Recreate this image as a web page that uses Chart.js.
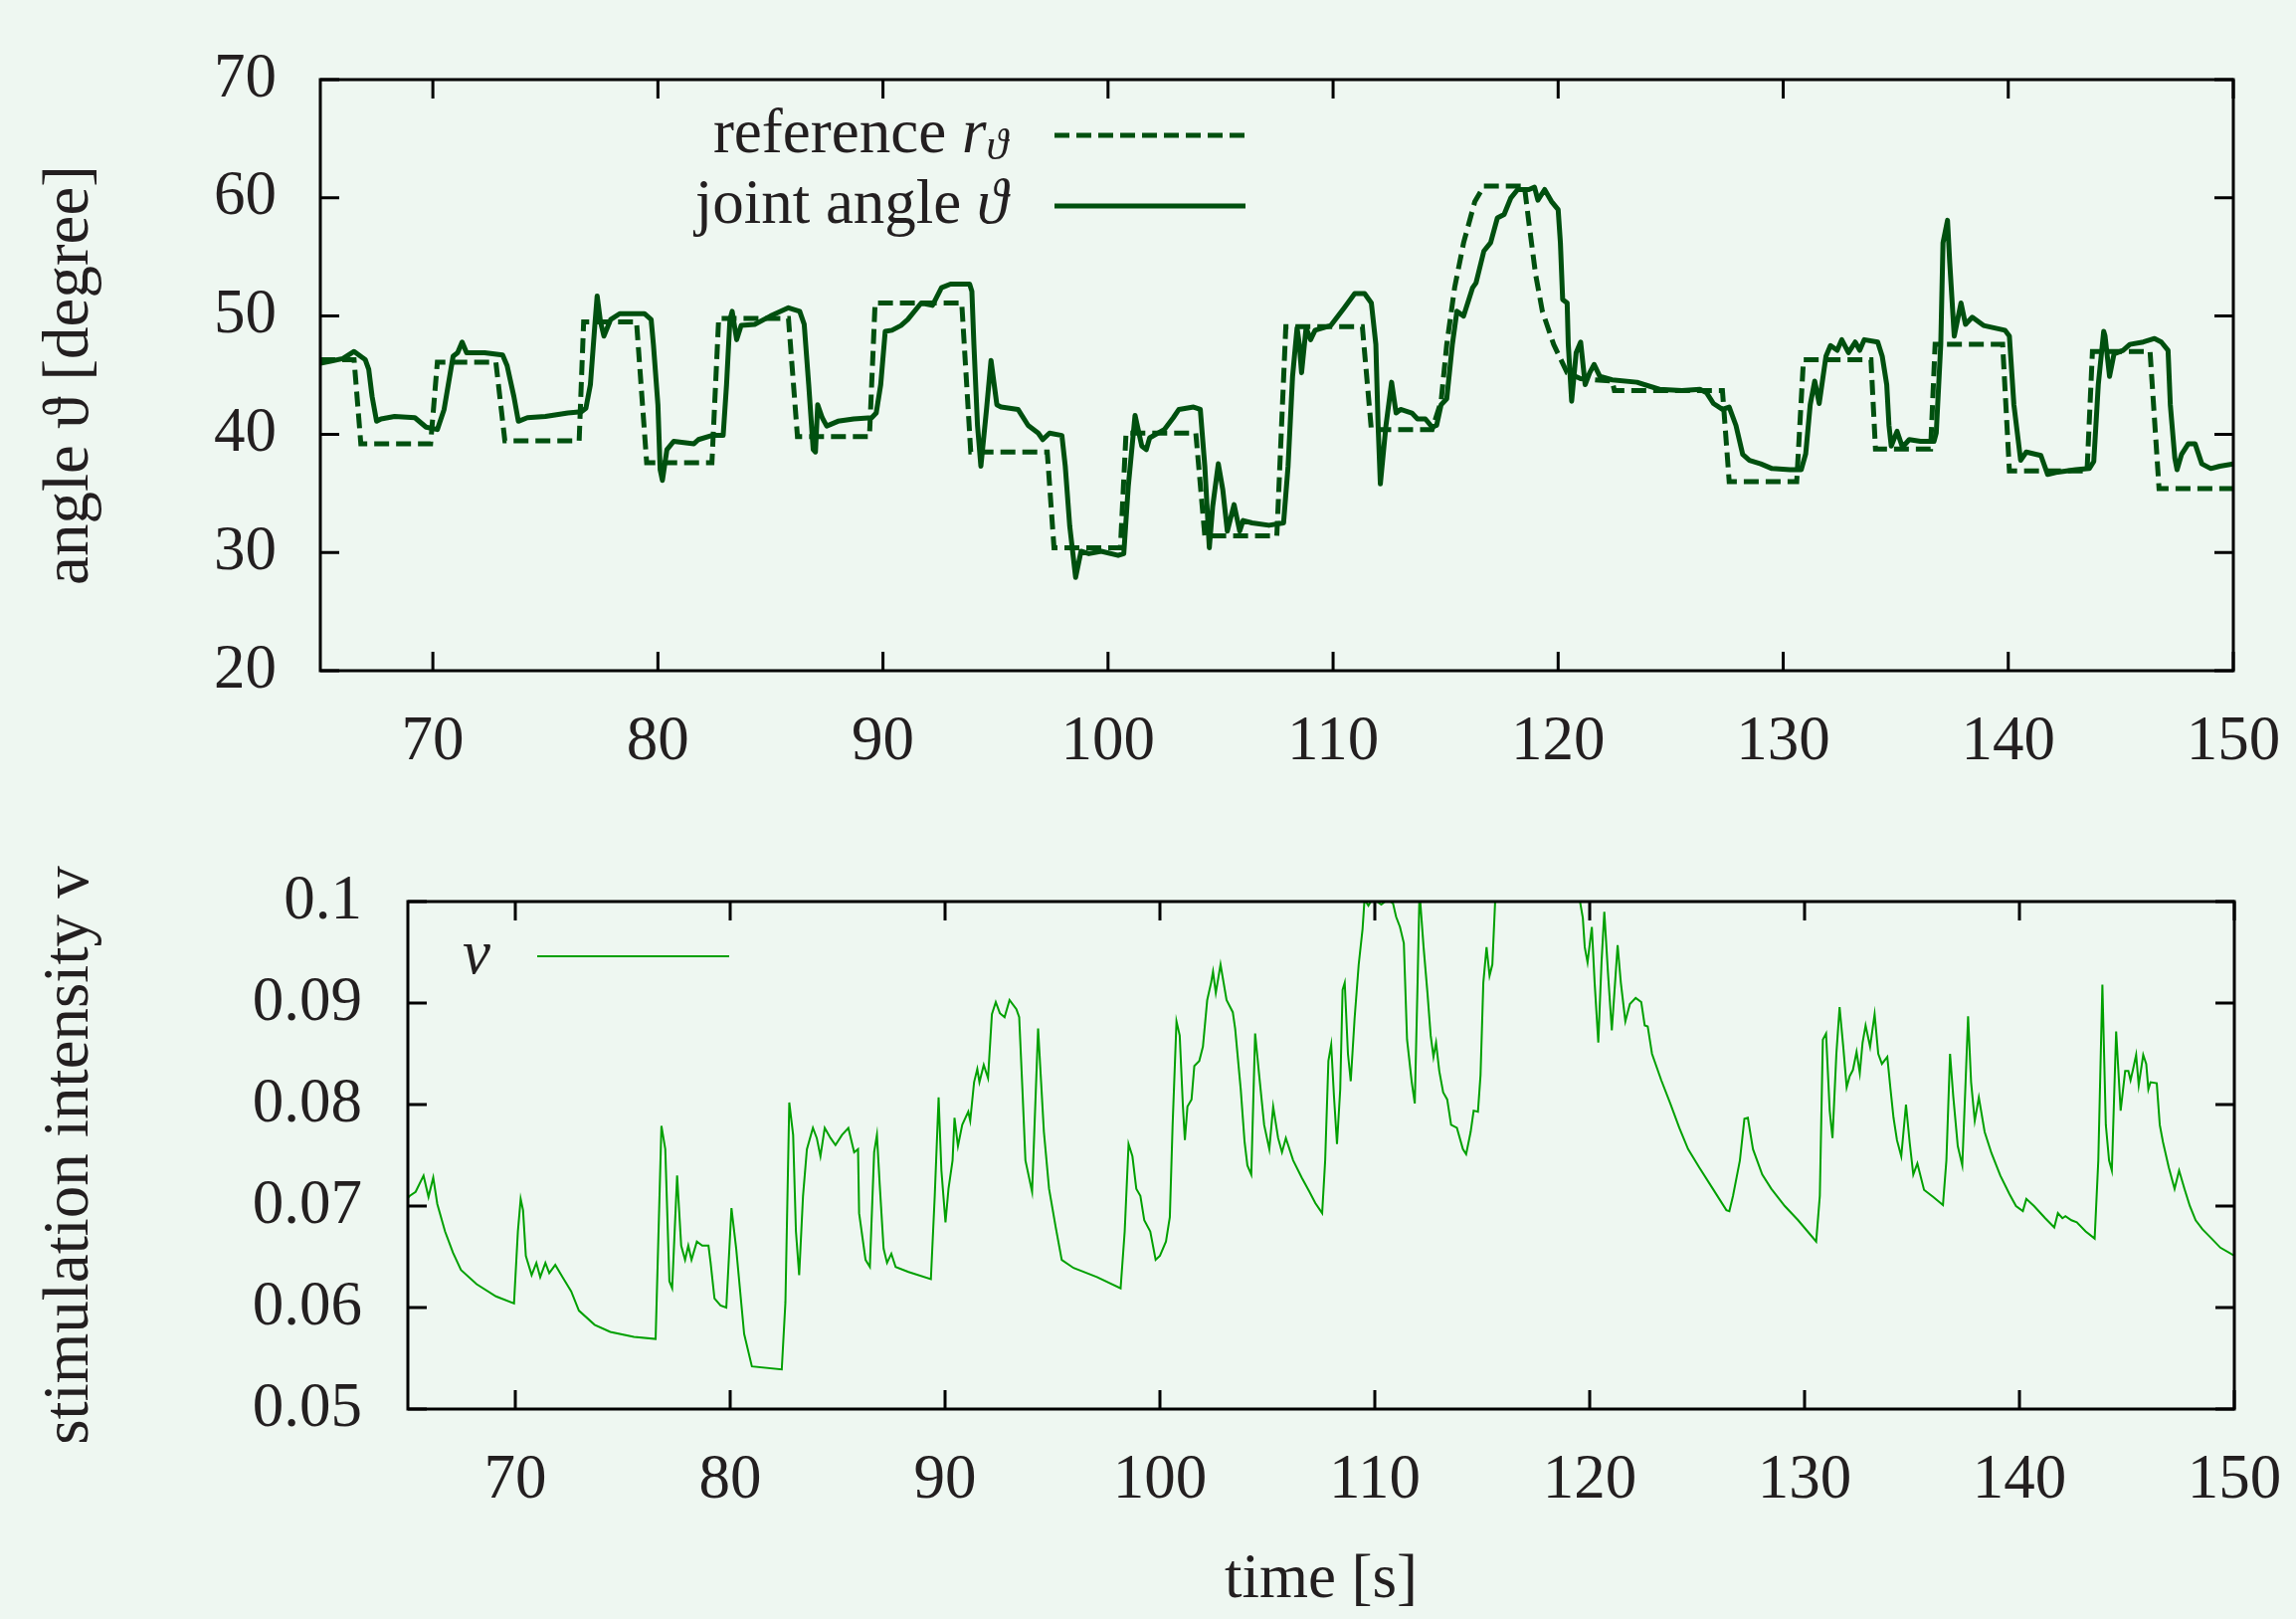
<!DOCTYPE html>
<html>
<head>
<meta charset="utf-8">
<script src="https://cdn.jsdelivr.net/npm/chart.js@4.4.1/dist/chart.umd.min.js"></script>
<style>
  html, body { margin: 0; padding: 0; background: #eef7f1; }
  body { width: 2308px; height: 1627px; position: relative; overflow: hidden; }
  .box { position: absolute; left: 0; width: 2308px; }
</style>
</head>
<body>
<div class="box" style="top:0;height:800px"><canvas id="angleChart" width="2308" height="800"></canvas></div>
<div class="box" style="top:830px;height:797px"><canvas id="stimChart" width="2308" height="797"></canvas></div>
<script>
// tick labels
const timeTicks = [70, 80, 90, 100, 110, 120, 130, 140, 150];
const angleTicks = [20, 30, 40, 50, 60, 70];
const stimTicks = [0.05, 0.06, 0.07, 0.08, 0.09, 0.1];

// reference r (dashed)
const refTime = [65, 66.5, 66.8, 69.9, 70.2, 72.8, 73.2, 76.5, 76.7, 79.05, 79.5, 82.4, 82.7, 85.8, 86.2, 89.4,
  89.65, 93.5, 93.9, 97.3, 97.6, 100.55, 100.8, 103.9, 104.3, 107.5, 107.9, 111.3, 111.7, 114.4, 114.8, 115.05,
  115.4, 115.8, 116.3, 116.7, 118.5, 118.7, 119.0, 119.3, 119.8, 120.4, 121.0, 122.4, 122.5, 127.3, 127.6, 130.6,
  130.9, 133.9, 134.1, 136.55, 136.75, 139.75, 140.05, 143.5, 143.74, 146.3, 146.7, 150];
const refAngle = [46.3, 46.3, 39.2, 39.2, 46.1, 46.1, 39.45, 39.45, 49.5, 49.5, 37.6, 37.6, 49.8, 49.8, 39.8, 39.8,
  51.1, 51.1, 38.5, 38.5, 30.4, 30.4, 40.1, 40.1, 31.4, 31.4, 49.1, 49.1, 40.4, 40.4, 42.8, 47.6,
  52.4, 56.2, 59.7, 61.0, 61.0, 57.9, 53.5, 50.4, 47.6, 45.2, 44.7, 44.5, 43.7, 43.7, 36.0, 36.0,
  46.3, 46.3, 38.75, 38.75, 47.6, 47.6, 36.9, 36.9, 47.0, 47.0, 35.4, 35.4];

// joint angle (solid)
const jointTime = [65.0, 65.5, 66.0, 66.5, 67.0, 67.15, 67.3, 67.5, 67.7, 68.3, 69.2, 69.7, 70.2, 70.5, 70.9, 71.1,
  71.3, 71.5, 72.3, 73.1, 73.3, 73.6, 73.8, 74.2, 75.0, 76.0, 76.6, 76.8, 77.0, 77.2, 77.3, 77.45, 77.6, 77.9,
  78.3, 79.4, 79.7, 79.8, 80.0, 80.1, 80.2, 80.4, 80.7, 81.6, 81.8, 82.4, 82.9, 83.05, 83.2, 83.3, 83.5, 83.7,
  84.3, 85.0, 85.8, 86.3, 86.5, 86.7, 86.9, 87.0, 87.1, 87.3, 87.5, 88.0, 88.7, 89.5, 89.7, 89.9, 90.1, 90.4,
  90.8, 91.1, 91.7, 92.2, 92.6, 93.0, 93.85, 93.95, 94.04, 94.2, 94.35, 94.6, 94.8, 95.06, 95.25, 96.0, 96.45,
  96.9, 97.1, 97.4, 97.95, 98.1, 98.3, 98.56, 98.8, 99.15, 99.7, 100.45, 100.7, 100.9, 101.2, 101.5, 101.7,
  101.85, 102.5, 102.9, 103.15, 103.8, 104.1, 104.3, 104.5, 104.65, 104.9, 105.1, 105.3, 105.6, 105.85, 106.0,
  106.4, 107.15, 107.8, 108.0, 108.2, 108.4, 108.5, 108.6, 108.8, 109.0, 109.2, 109.9, 110.5, 110.96, 111.4,
  111.7, 111.9, 112.0, 112.1, 112.35, 112.6, 112.8, 113.0, 113.5, 113.75, 114.1, 114.4, 114.6, 114.8, 115.05,
  115.3, 115.5, 115.8, 116.2, 116.35, 116.7, 117.0, 117.3, 117.6, 117.9, 118.2, 118.7, 118.95, 119.1, 119.4,
  119.7, 120.0, 120.1, 120.2, 120.4, 120.45, 120.6, 120.8, 121.0, 121.2, 121.4, 121.6, 121.85, 122.4, 123.5,
  124.5, 125.5, 126.3, 126.6, 126.9, 127.3, 127.6, 127.9, 128.2, 128.5, 129.0, 129.5, 130.3, 130.8, 131.0,
  131.2, 131.4, 131.6, 131.9, 132.1, 132.4, 132.6, 132.9, 133.2, 133.4, 133.6, 134.2, 134.4, 134.6, 134.7,
  134.8, 135.06, 135.3, 135.6, 136.1, 136.7, 136.8, 137.0, 137.1, 137.3, 137.4, 137.6, 137.9, 138.1, 138.4,
  138.9, 139.85, 140.05, 140.25, 140.55, 140.8, 141.45, 141.75, 142.2, 143.0, 143.6, 143.8, 144.0, 144.24,
  144.3, 144.5, 144.7, 145.1, 145.4, 146.0, 146.5, 146.8, 147.1, 147.2, 147.4, 147.5, 147.7, 148.0, 148.3,
  148.6, 149.0, 149.4, 150.0];
const jointAngle = [46.0, 46.2, 46.4, 47.0, 46.3, 45.5, 43.2, 41.1, 41.3, 41.5, 41.4, 40.6, 40.4, 42.1, 46.6, 46.9,
  47.8, 46.9, 46.9, 46.7, 45.8, 43.2, 41.1, 41.4, 41.5, 41.8, 41.9, 42.2, 44.2, 49.3, 51.7, 49.5, 48.3, 49.7,
  50.2, 50.2, 49.7, 47.6, 42.5, 37.0, 36.1, 38.7, 39.4, 39.2, 39.55, 39.9, 39.9, 44.2, 49.7, 50.4, 48.0, 49.2,
  49.3, 50.0, 50.7, 50.4, 49.3, 44.2, 38.7, 38.5, 42.5, 41.4, 40.7, 41.1, 41.3, 41.4, 41.8, 44.2, 48.7, 48.8,
  49.2, 49.7, 51.1, 50.9, 52.4, 52.7, 52.7, 52.1, 47.6, 40.75, 37.3, 42.1, 46.25, 42.5, 42.3, 42.1, 40.75,
  40.1, 39.55, 40.1, 39.9, 37.3, 32.2, 27.9, 30.1, 29.9, 30.1, 29.75, 29.9, 35.6, 41.6, 39.0, 38.7,
  39.7, 40.4, 41.4, 42.1, 42.3, 42.1, 37.3, 30.4, 33.9, 37.5, 35.3, 31.8, 34.05, 31.8, 32.7,
  32.5, 32.3, 32.5, 37.3, 44.9, 49.0, 47.6, 45.2, 49.0, 48.0, 48.8, 49.2, 50.7, 51.9, 51.9,
  51.1, 47.6, 40.75, 35.8, 40.75, 44.4, 41.8, 42.1, 41.8, 41.3, 41.3, 40.6, 40.75, 42.5, 43.0,
  47.6, 50.4, 50.0, 52.4, 52.8, 55.5, 56.2, 58.3, 58.6, 60.0, 60.7, 60.7, 60.9, 59.8, 60.7,
  59.7, 59.0, 56.2, 51.4, 51.1, 47.6, 42.8, 46.9, 47.8, 44.2, 45.2, 45.9, 44.9, 44.6, 44.4,
  43.8, 43.7, 43.8, 43.5, 42.6, 42.1, 42.3, 40.75, 38.3, 37.8, 37.5, 37.1, 37.0, 37.0, 38.35,
  42.5, 44.5, 42.6, 46.6, 47.5, 47.1, 48.0, 46.9, 47.8, 47.1, 48.0, 47.8, 46.6, 44.2, 40.75,
  39.0, 40.25, 38.9, 39.55, 39.4, 39.4, 40.1, 47.6, 56.2, 58.1, 54.5, 48.3, 51.1, 49.3, 49.9,
  49.2, 48.8, 48.3, 42.5, 37.8, 38.5, 38.2, 36.6, 36.8, 37.0, 37.1, 37.7, 44.2, 48.7,
  48.3, 44.9, 46.8, 47.1, 47.6, 47.8, 48.1, 47.8, 47.1, 42.5, 38.0, 37.0, 38.3, 39.2, 39.2,
  37.5, 37.1, 37.3, 37.5];

// stimulation intensity v
const stimTime = [65.0, 65.09, 65.36, 65.73, 65.96, 66.18, 66.37, 66.73, 67.1, 67.47, 68.2, 69.1, 69.94, 70.12,
  70.25, 70.36, 70.49, 70.76, 70.98, 71.16, 71.4, 71.58, 71.86, 72.2, 72.6, 72.96, 73.69, 74.42, 75.52, 76.53,
  76.8, 76.98, 77.17, 77.3, 77.53, 77.72, 77.9, 78.05, 78.2, 78.45, 78.7, 78.99, 79.09, 79.27, 79.55, 79.82,
  80.06, 80.28, 80.65, 81.01, 82.4, 82.57, 82.75, 82.93, 83.06, 83.21, 83.39, 83.57, 83.85, 84.03, 84.2, 84.4,
  84.67, 84.9, 85.2, 85.5, 85.77, 85.95, 86.0, 86.3, 86.5, 86.7, 86.83, 86.96, 87.14, 87.3, 87.5, 87.7, 88.3,
  89.34, 89.52, 89.7, 89.83, 90.02, 90.16, 90.35, 90.44, 90.6, 90.8, 91.08, 91.17, 91.35, 91.5, 91.6, 91.8,
  92.0, 92.18, 92.36, 92.55, 92.77, 93.0, 93.32, 93.45, 93.6, 93.74, 94.05, 94.33, 94.47, 94.6, 94.84, 95.15,
  95.43, 95.98, 97.07, 98.17, 98.36, 98.54, 98.72, 98.9, 99.09, 99.27, 99.55, 99.8, 100.0, 100.28, 100.46,
  100.59, 100.77, 100.92, 101.07, 101.16, 101.28, 101.47, 101.6, 101.83, 102.0, 102.2, 102.38, 102.47, 102.6,
  102.82, 103.1, 103.39, 103.5, 103.76, 103.94, 104.07, 104.25, 104.43, 104.6, 104.85, 105.09, 105.27, 105.5,
  105.68, 105.86, 106.2, 106.6, 106.96, 107.23, 107.55, 107.69, 107.84, 107.97, 108.1, 108.24, 108.39, 108.5,
  108.6, 108.75, 108.88, 109.06, 109.25, 109.43, 109.52, 109.7, 109.9, 110.3, 110.6, 110.85, 110.99, 111.17,
  111.35, 111.5, 111.72, 111.86, 111.99, 112.08, 112.27, 112.45, 112.6, 112.73, 112.85, 113.0, 113.18, 113.37,
  113.55, 113.82, 114.1, 114.25, 114.46, 114.6, 114.8, 114.92, 115.05, 115.2, 115.34, 115.47, 115.6, 115.75,
  116.5, 117.5, 118.5, 119.3, 119.55, 119.68, 119.77, 119.9, 120.1, 120.23, 120.4, 120.55, 120.68, 120.85,
  121.03, 121.3, 121.45, 121.66, 121.87, 122.14, 122.4, 122.56, 122.7, 122.9, 123.33, 123.75, 124.17, 124.58,
  125.1, 125.73, 126.36, 126.5, 126.67, 126.99, 127.2, 127.36, 127.6, 128.03, 128.45, 129.08, 129.7, 130.54,
  130.71, 130.85, 131.0, 131.17, 131.3, 131.48, 131.63, 131.8, 131.96, 132.1, 132.25, 132.42, 132.57, 132.7,
  132.84, 133.05, 133.26, 133.43, 133.6, 133.85, 134.0, 134.14, 134.3, 134.5, 134.72, 134.89, 135.06, 135.25,
  135.56, 135.98, 136.44, 136.6, 136.77, 136.92, 137.13, 137.34, 137.48, 137.61, 137.75, 137.92, 138.11,
  138.38, 138.7, 139.11, 139.53, 139.84, 140.16, 140.32, 140.68, 141.2, 141.62, 141.79, 142.0, 142.14, 142.42,
  142.67, 143.08, 143.5, 143.67, 143.86, 144.02, 144.17, 144.3, 144.5, 144.71, 144.92, 145.07, 145.17, 145.28,
  145.43, 145.55, 145.76, 145.9, 146.0, 146.1, 146.39, 146.53, 146.68, 146.95, 147.22, 147.43, 147.68, 147.93,
  148.2, 148.52, 148.94, 149.35, 150.0];
const stimValue = [0.0708, 0.0710, 0.0714, 0.0730, 0.0709, 0.0728, 0.0702, 0.0675, 0.0654, 0.0637, 0.0623, 0.0611,
  0.0604, 0.0675, 0.0707, 0.0696, 0.0651, 0.0632, 0.0644, 0.0630, 0.0644, 0.0634, 0.0642, 0.0630, 0.0616, 0.0597,
  0.0583, 0.0576, 0.0571, 0.0569, 0.0779, 0.0756, 0.0626, 0.0619, 0.0730, 0.0661, 0.0647, 0.0661, 0.0647, 0.0665,
  0.0661, 0.0661, 0.0644, 0.0609, 0.0602, 0.0600, 0.0698, 0.0658, 0.0574, 0.0542, 0.0539, 0.0605, 0.0802, 0.0770,
  0.0675, 0.0632, 0.0710, 0.0756, 0.0777, 0.0767, 0.0749, 0.0777, 0.0767, 0.0760, 0.0770, 0.0777, 0.0753, 0.0756,
  0.0693, 0.0647, 0.0640, 0.0753, 0.0770, 0.0721, 0.0658, 0.0644, 0.0653, 0.0640, 0.0635, 0.0628, 0.0710, 0.0807,
  0.0735, 0.0684, 0.0717, 0.0745, 0.0787, 0.0759, 0.0780, 0.0793, 0.0784, 0.0822, 0.0835, 0.0822, 0.0839, 0.0826,
  0.0889, 0.0901, 0.0890, 0.0886, 0.0903, 0.0894, 0.0886, 0.0815, 0.0745, 0.0714, 0.0875, 0.0822, 0.0773, 0.0717,
  0.0679, 0.0647, 0.0639, 0.0630, 0.0619, 0.0675, 0.0761, 0.0749, 0.0717, 0.0710, 0.0686, 0.0675, 0.0647, 0.0651,
  0.0665, 0.0689, 0.0780, 0.0882, 0.0868, 0.0798, 0.0765, 0.0798, 0.0805, 0.0838, 0.0843, 0.0857, 0.0903, 0.0920,
  0.0931, 0.0910, 0.0938, 0.0903, 0.0891, 0.0875, 0.0815, 0.0763, 0.0740, 0.0731, 0.0870, 0.0833, 0.0780, 0.0756,
  0.0798, 0.0767, 0.0753, 0.0767, 0.0745, 0.0728, 0.0714, 0.0703, 0.0693, 0.0745, 0.0843, 0.0859, 0.0808, 0.0761,
  0.0815, 0.0913, 0.0920, 0.0850, 0.0823, 0.0885, 0.0938, 0.0973, 0.1002, 0.0996, 0.1003, 0.0997, 0.1002, 0.0998,
  0.0985, 0.0975, 0.0959, 0.0864, 0.0822, 0.0801, 0.0920, 0.1010, 0.0955, 0.0910, 0.0868, 0.0847, 0.0861, 0.0833,
  0.0812, 0.0805, 0.0780, 0.0777, 0.0756, 0.0751, 0.0773, 0.0794, 0.0793, 0.0829, 0.0920, 0.0955, 0.0927, 0.0938,
  0.1000, 0.1040, 0.1070, 0.1080, 0.1060, 0.1030, 0.1000, 0.0984, 0.0955, 0.0940, 0.0975, 0.0920, 0.0861, 0.0940,
  0.0990, 0.0930, 0.0873, 0.0957, 0.0920, 0.0882, 0.0899, 0.0905, 0.0901, 0.0878, 0.0877, 0.0850, 0.0824, 0.0801,
  0.0777, 0.0756, 0.0738, 0.0717, 0.0696, 0.0695, 0.0710, 0.0745, 0.0786, 0.0787, 0.0756, 0.0731, 0.0717, 0.0700,
  0.0686, 0.0665, 0.0710, 0.0864, 0.0870, 0.0794, 0.0767, 0.0850, 0.0896, 0.0857, 0.0817, 0.0828, 0.0834, 0.0852,
  0.0831, 0.0861, 0.0878, 0.0857, 0.0889, 0.0850, 0.0840, 0.0847, 0.0815, 0.0787, 0.0765, 0.0749, 0.0800, 0.0763,
  0.0731, 0.0742, 0.0716, 0.0709, 0.0701, 0.0745, 0.0850, 0.0808, 0.0759, 0.0740, 0.0815, 0.0887, 0.0822, 0.0784,
  0.0807, 0.0773, 0.0752, 0.0730, 0.0712, 0.0700, 0.0695, 0.0707, 0.0700, 0.0688, 0.0679, 0.0693, 0.0688, 0.0690,
  0.0686, 0.0684, 0.0675, 0.0668, 0.0745, 0.0918, 0.0780, 0.0745, 0.0735, 0.0872, 0.0794, 0.0833, 0.0833, 0.0824,
  0.0834, 0.0849, 0.0819, 0.0849, 0.0840, 0.0815, 0.0822, 0.0821, 0.0780, 0.0763, 0.0738, 0.0717, 0.0735, 0.0717,
  0.0700, 0.0686, 0.0677, 0.0668, 0.0659, 0.0651];

const FONT = 'Liberation Serif';
const INK = '#231f20';

function pairs(xs, ys) {
  return xs.map((x, i) => ({ x: x, y: ys[i] }));
}

// gnuplot-like frame with inward ticks on all four sides
const framePlugin = {
  id: 'frame',
  afterDatasetsDraw(chart) {
    const { ctx, chartArea: a, scales } = chart;
    const len = 19;
    ctx.save();
    ctx.strokeStyle = '#000';
    ctx.lineWidth = 3;
    ctx.setLineDash([]);
    ctx.beginPath();
    scales.x.ticks.forEach(t => {
      const px = scales.x.getPixelForValue(t.value);
      ctx.moveTo(px, a.bottom); ctx.lineTo(px, a.bottom - len);
      ctx.moveTo(px, a.top); ctx.lineTo(px, a.top + len);
    });
    scales.y.ticks.forEach(t => {
      const py = scales.y.getPixelForValue(t.value);
      ctx.moveTo(a.left, py); ctx.lineTo(a.left + len, py);
      ctx.moveTo(a.right, py); ctx.lineTo(a.right - len, py);
    });
    ctx.stroke();
    ctx.strokeRect(a.left, a.top, a.right - a.left, a.bottom - a.top);
    ctx.restore();
  }
};

// key (text right-aligned, then line sample) and the x axis label, canvas coordinates
const keyPlugin = {
  id: 'gpKey',
  afterDraw(chart, args, opts) {
    const ctx = chart.ctx;
    ctx.save();
    ctx.textBaseline = 'middle';
    ctx.textAlign = 'left';
    chart.data.datasets.forEach((ds, i) => {
      const y = opts.rows[i];
      const parts = ds.keyParts;
      const fontOf = p => (p.it ? 'italic ' : '') + (p.sub ? 44 : 63) + 'px "' + FONT + '"';
      let w = 0;
      parts.forEach(p => { ctx.font = fontOf(p); w += ctx.measureText(p.t).width; });
      let x = opts.textRight - w;
      ctx.fillStyle = INK;
      parts.forEach(p => {
        ctx.font = fontOf(p);
        ctx.fillText(p.t, x, y + (p.sub ? 12 : 0));
        x += ctx.measureText(p.t).width;
      });
      ctx.strokeStyle = ds.borderColor;
      ctx.lineWidth = ds.borderWidth;
      ctx.setLineDash(ds.borderDash || []);
      ctx.beginPath();
      ctx.moveTo(opts.lineStart, y);
      ctx.lineTo(opts.lineEnd, y);
      ctx.stroke();
    });
    if (opts.xLabel) {
      const a = chart.chartArea;
      ctx.font = '63px "' + FONT + '"';
      ctx.fillStyle = INK;
      ctx.textAlign = 'center';
      ctx.fillText(opts.xLabel, (a.left + a.right) / 2, opts.xLabelY);
    }
    ctx.restore();
  }
};

function tickFont() {
  return { family: FONT, size: 63 };
}

function makeOptions(cfg) {
  return {
    responsive: false,
    animation: false,
    devicePixelRatio: 1,
    layout: { padding: { top: cfg.padTop, right: cfg.padRight, left: 0, bottom: 0 } },
    plugins: {
      legend: { display: false },
      tooltip: { enabled: false },
      gpKey: cfg.key
    },
    scales: {
      x: {
        type: 'linear',
        min: 65,
        max: 150,
        afterBuildTicks: s => { s.ticks = timeTicks.map(v => ({ value: v })); },
        afterFit: s => { s.height = cfg.xHeight; s.paddingLeft = 0; s.paddingRight = 0; },
        grid: { display: false, drawTicks: false },
        border: { display: false },
        ticks: { font: tickFont(), color: INK, padding: 35, maxRotation: 0 }
      },
      y: {
        type: 'linear',
        min: cfg.yMin,
        max: cfg.yMax,
        afterBuildTicks: s => { s.ticks = cfg.yTicks.map(v => ({ value: v })); },
        afterFit: s => { s.width = cfg.yWidth; s.paddingTop = 0; s.paddingBottom = 0; },
        grid: { display: false, drawTicks: false },
        border: { display: false },
        ticks: {
          font: tickFont(), color: INK, padding: cfg.yPad,
          callback: v => String(Math.round(v * 100) / 100)
        },
        title: {
          display: true,
          text: cfg.yTitle,
          font: { family: FONT, size: 65 },
          color: INK,
          padding: { top: 32, bottom: 0 }
        }
      }
    }
  };
}

new Chart(document.getElementById('angleChart'), {
  type: 'line',
  data: {
    datasets: [
      {
        label: 'reference r\u03d1',
        keyParts: [{ t: 'reference ' }, { t: 'r', it: true }, { t: '\u03d1', it: true, sub: true }],
        data: pairs(refTime, refAngle),
        borderColor: '#00500f',
        borderWidth: 5,
        borderDash: [15, 7],
        pointRadius: 0,
        tension: 0,
        order: 2
      },
      {
        label: 'joint angle \u03d1',
        keyParts: [{ t: 'joint angle ' }, { t: '\u03d1', it: true }],
        data: pairs(jointTime, jointAngle),
        borderColor: '#00500f',
        borderWidth: 5,
        borderJoinStyle: 'round',
        pointRadius: 0,
        tension: 0,
        order: 1
      }
    ]
  },
  options: makeOptions({
    padTop: 80, padRight: 63, xHeight: 126, yWidth: 322, yPad: 44,
    yMin: 20, yMax: 70, yTicks: angleTicks,
    yTitle: 'angle \u03d1 [degree]',
    key: { textRight: 1013, lineStart: 1060, lineEnd: 1252, rows: [136, 207] }
  }),
  plugins: [framePlugin, keyPlugin]
});

new Chart(document.getElementById('stimChart'), {
  type: 'line',
  data: {
    datasets: [
      {
        label: 'v',
        keyParts: [{ t: 'v', it: true }],
        data: pairs(stimTime, stimValue),
        borderColor: '#00a000',
        borderWidth: 2,
        pointRadius: 0,
        tension: 0
      }
    ]
  },
  options: makeOptions({
    padTop: 76, padRight: 62, xHeight: 211, yWidth: 410, yPad: 46,
    yMin: 0.05, yMax: 0.1, yTicks: stimTicks,
    yTitle: 'stimulation intensity v',
    key: { textRight: 493, lineStart: 540, lineEnd: 733, rows: [131], xLabel: 'time [s]', xLabelY: 758 }
  }),
  plugins: [framePlugin, keyPlugin]
});
</script>
</body>
</html>
